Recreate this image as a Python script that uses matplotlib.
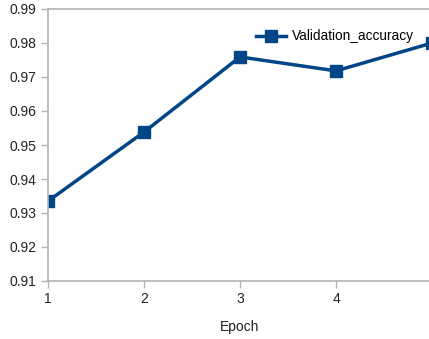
import matplotlib
matplotlib.use("Agg")
import matplotlib.pyplot as plt

epochs = [1, 2, 3, 4, 5]
val_acc = [0.9335, 0.9538, 0.9759, 0.9718, 0.9800]
yticks = [0.91, 0.92, 0.93, 0.94, 0.95, 0.96, 0.97, 0.98, 0.99]

plt.rcParams['font.family'] = ['Liberation Sans', 'DejaVu Sans']

fig = plt.figure(figsize=(4.29, 3.39), dpi=100)
# the axes runs a little past the right edge, like the cropped original
ax = fig.add_axes([48/429, 1 - 281/339, 384/429, 272/339])

ax.plot(epochs, val_acc, color='#004586', lw=2.5, marker='s', ms=8,
        label='Validation_accuracy')

ax.set_xlim(1, 5)
ax.set_ylim(0.91, 0.99)
ax.set_xticks(epochs)
ax.set_yticks(yticks)
ax.set_yticklabels(['%.2f' % v for v in yticks])
ax.set_xlabel('Epoch', fontsize=10, color='#222222', labelpad=10)

for s in ax.spines.values():
    s.set_color('#b3b3b3')
    s.set_linewidth(1.2)
ax.tick_params(colors='#b3b3b3', labelcolor='#222222', labelsize=10,
               length=5, width=1)
ax.tick_params(axis='x', pad=3)

leg = ax.legend(loc='upper left', bbox_to_anchor=(0.51, 0.97), frameon=False,
                fontsize=9.8, handlelength=2.2, handletextpad=0.4)

fig.savefig('out.png', dpi=100)
